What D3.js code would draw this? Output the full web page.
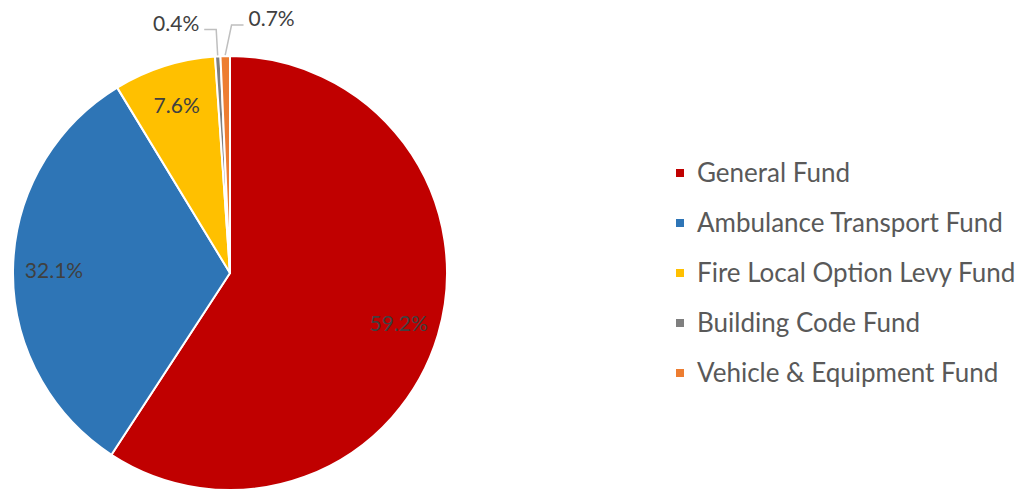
<!DOCTYPE html>
<html><head><meta charset="utf-8">
<script src="https://cdn.jsdelivr.net/npm/d3@7"></script>
<style>body{margin:0;background:#fff;} svg{display:block;}</style>
</head><body>
<svg id="c" width="1016" height="490"></svg>
<script>
const categories = ["General Fund","Ambulance Transport Fund","Fire Local Option Levy Fund","Building Code Fund","Vehicle & Equipment Fund"];
const values = [59.2, 32.1, 7.6, 0.4, 0.7];
const labels = ["59.2%","32.1%","7.6%","0.4%","0.7%"];
const colors = ["#C00000","#2E75B6","#FFC000","#7F7F7F","#ED7D31"];

const svg = d3.select("#c");
const cx = 230, cy = 273, R = 217;
const font = "Lato, 'Open Sans', sans-serif";

const pie = d3.pie().sort(null).value(d => d)(values);
const arc = d3.arc().innerRadius(0).outerRadius(R);
const g = svg.append("g").attr("transform", `translate(${cx},${cy})`);

g.selectAll("path.slice").data(pie).join("path")
  .attr("class","slice")
  .attr("d", arc)
  .attr("fill", (d,i) => colors[i])
  .attr("stroke", "#fff").attr("stroke-width", 2).attr("stroke-linejoin","round");

const labelArc = d3.arc().innerRadius(176).outerRadius(176);
pie.forEach((d,i) => {
  const pct = (d.endAngle - d.startAngle) / (2*Math.PI);
  if (pct > 0.03) {
    const [x,y] = labelArc.centroid(d);
    g.append("text").attr("x", x).attr("y", y).attr("dy","0.35em")
      .attr("text-anchor","middle").attr("font-family", font).attr("font-size", 21)
      .attr("fill","#404040").text(labels[i]);
  }
});

// outside labels for small slices
const small = pie.map((d,i)=>({d,i})).filter(o => (o.d.endAngle-o.d.startAngle)/(2*Math.PI) <= 0.03);
small.forEach((o, k) => {
  const side = k === 0 ? -1 : 1;
  const mid = (o.d.startAngle + o.d.endAngle)/2;
  const p0 = [Math.sin(mid)*(R+1), -Math.cos(mid)*(R+1)];
  const rE = R + 27 + k*4;
  const p1 = [Math.sin(mid)*rE + (side>0 ? 7 : 0), -Math.cos(mid)*rE];
  const p2 = [p1[0] + side*12, p1[1]];
  g.append("path").attr("d", d3.line()([p0,p1,p2]))
    .attr("fill","none").attr("stroke","#BFBFBF").attr("stroke-width",1.5);
  g.append("text").attr("x", p2[0] + side*5).attr("y", p2[1] - 6).attr("dy","0.35em")
    .attr("text-anchor", side<0 ? "end" : "start")
    .attr("font-family", font).attr("font-size", 21).attr("fill","#404040")
    .text(labels[o.i]);
});

// legend
const lg = svg.append("g");
const ly0 = 173, lstep = 50;
categories.forEach((c,i) => {
  const y = ly0 + i*lstep;
  lg.append("rect").attr("x", 676).attr("y", y-4).attr("width", 8).attr("height", 8).attr("fill", colors[i]);
  lg.append("text").attr("x", 697).attr("y", y).attr("dy","0.35em")
    .attr("font-family", font).attr("font-size", 26).attr("fill","#595959").text(c);
});
</script>
</body></html>
